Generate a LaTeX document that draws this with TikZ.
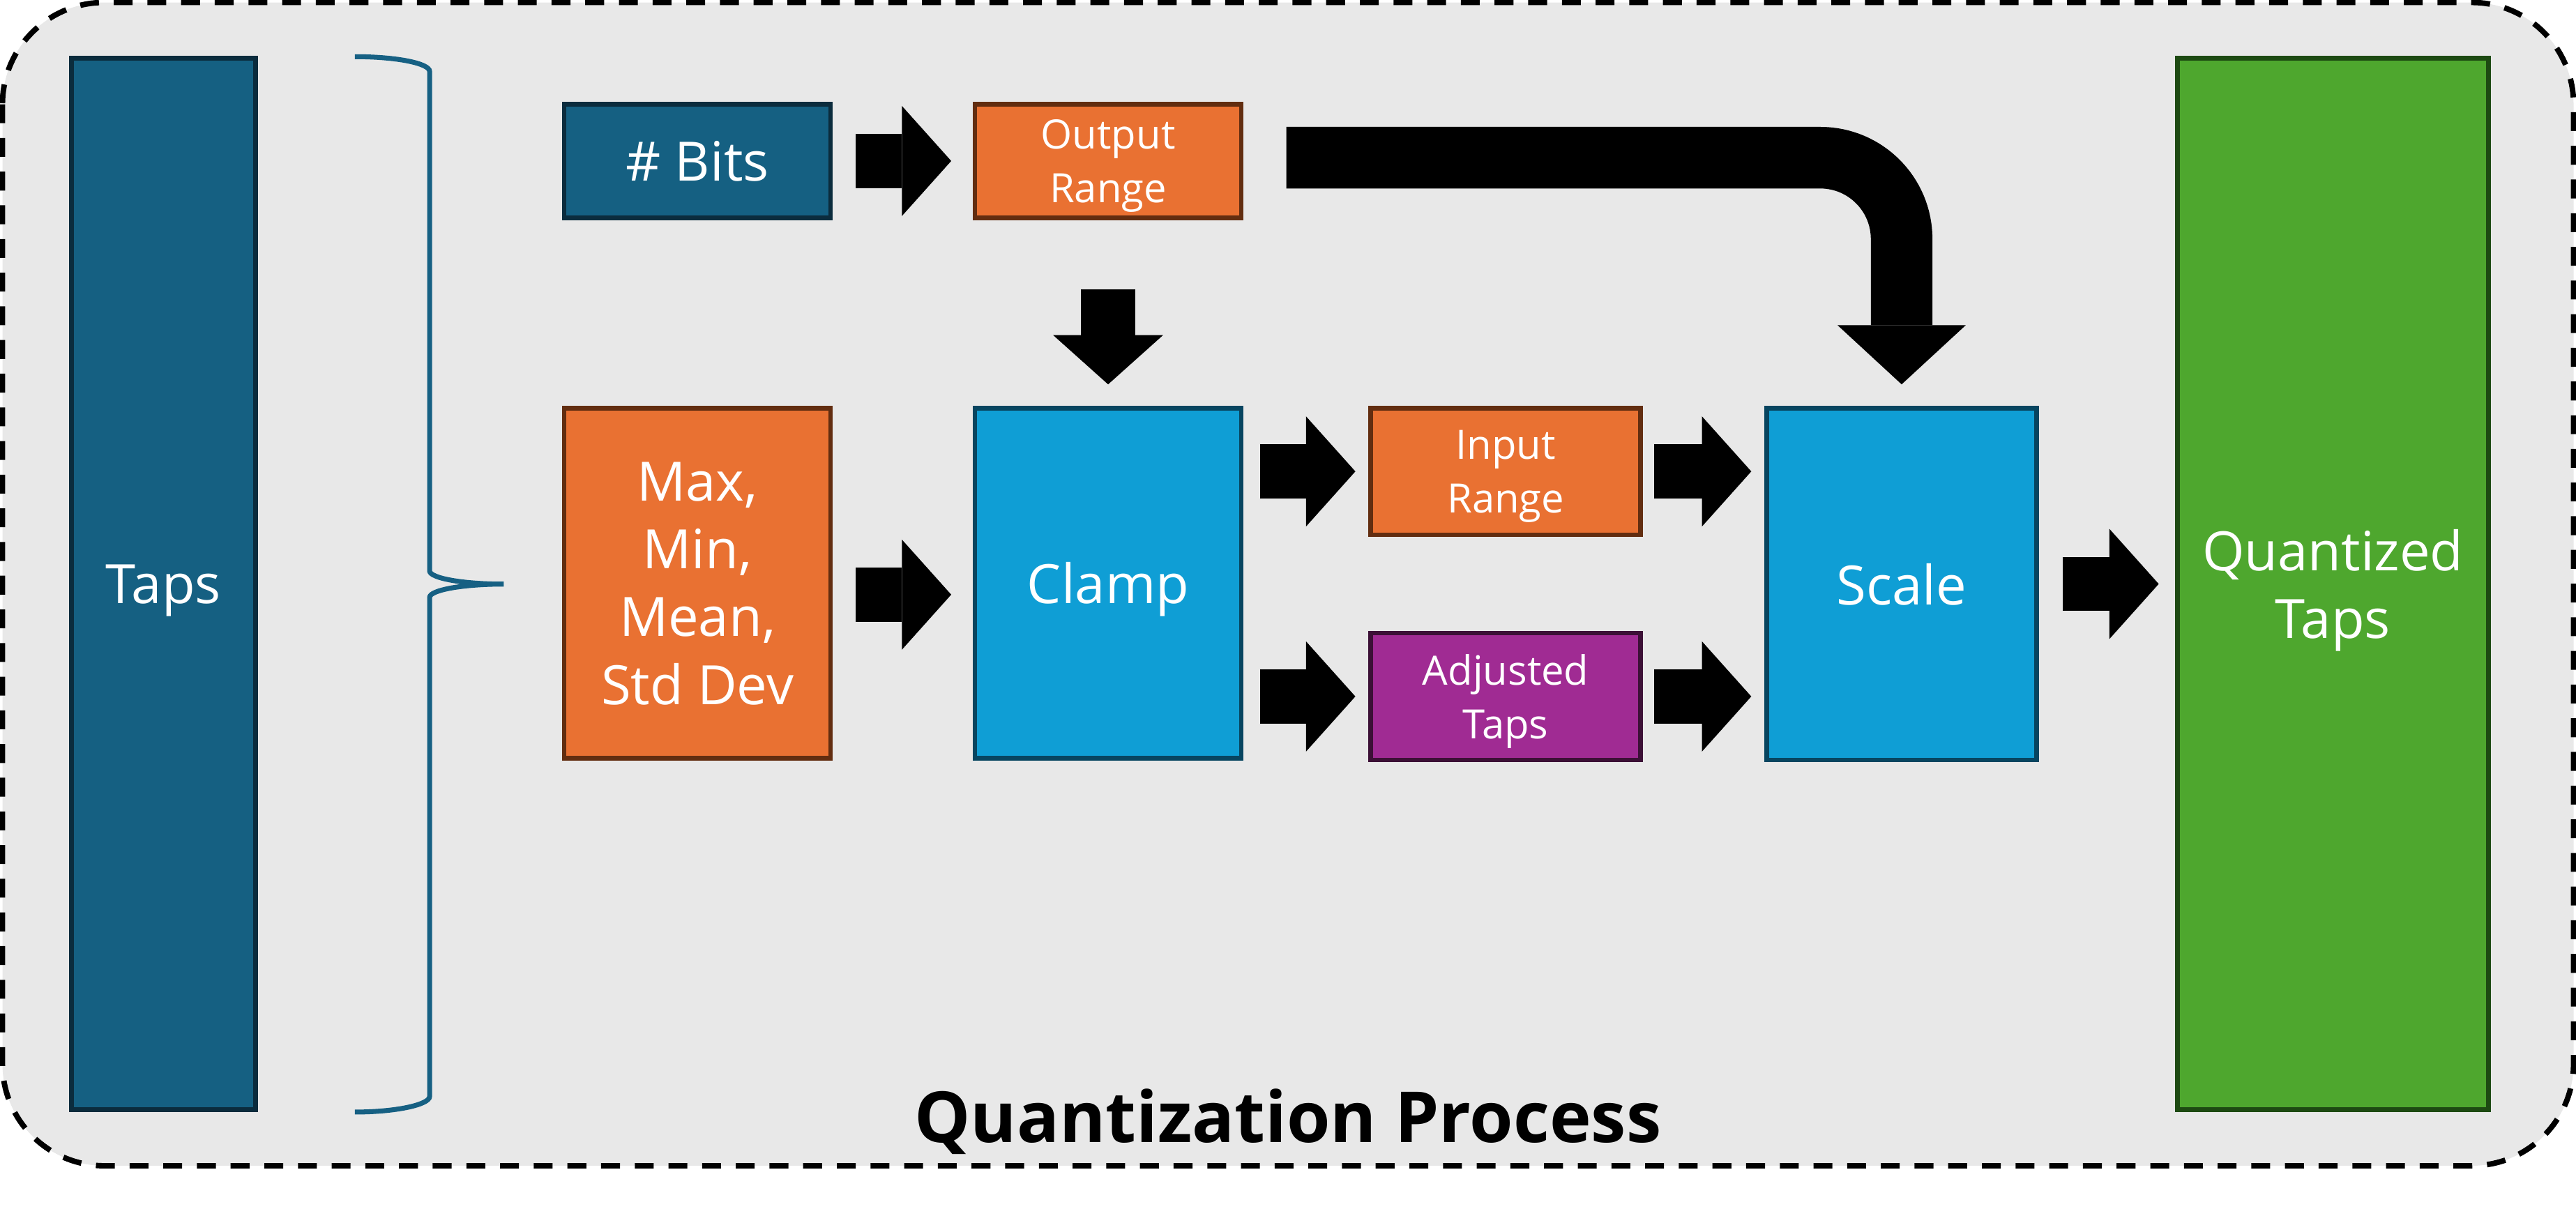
\documentclass[tikz,border=0pt]{standalone}
\usepackage{fontspec}
\setmainfont{Open Sans}
\usepackage{tikz}
\usetikzlibrary{arrows.meta}

\definecolor{tealfill}{HTML}{156082}
\definecolor{tealline}{HTML}{0B2C3D}
\definecolor{orangefill}{HTML}{E97132}
\definecolor{orangeline}{HTML}{622D10}
\definecolor{bluefill}{HTML}{0F9ED5}
\definecolor{blueline}{HTML}{074560}
\definecolor{purplefill}{HTML}{A02B93}
\definecolor{purpleline}{HTML}{3C1036}
\definecolor{greenfill}{HTML}{4EA72E}
\definecolor{greenline}{HTML}{1D4A12}
\definecolor{panelgray}{HTML}{E8E8E8}
\definecolor{bracecol}{HTML}{166083}

\begin{document}
\begin{tikzpicture}[
    box/.style={draw, line width=1.6pt, inner sep=0pt, text=white, align=center,
      text depth=0pt, font=\fontsize{18.8pt}{23.5pt}\selectfont},
    small/.style={font=\fontsize{14pt}{18.7pt}\selectfont},
    tealbox/.style={box, fill=tealfill, draw=tealline},
    orangebox/.style={box, fill=orangefill, draw=orangeline},
    bluebox/.style={box, fill=bluefill, draw=blueline},
    purplebox/.style={box, fill=purplefill, draw=purpleline},
    greenbox/.style={box, fill=greenfill, draw=greenline},
    blockarrow/.style={line width=0.66cm,
      -{Triangle[length=0.6cm, width=1.34cm, line width=0pt]}},
    bigarrow/.style={line width=0.75cm, rounded corners=0.99cm,
      -{Triangle[length=0.72cm, width=1.56cm, line width=0pt]}}
  ]
      \useasboundingbox (0,0) rectangle (31.36,-14.72);

      % dashed frame round everything
      \draw[line width=1.9pt, dash pattern=on 0.23cm off 0.18cm, fill=panelgray,
        rounded corners=1.24cm] (0.03,-0.03) rectangle (31.33,-14.194);

      % write the title
      \node[anchor=base, font=\fontsize{24.4pt}{29pt}\selectfont\bfseries] (title)
        at (15.68,-13.906) {Quantization Process};

      % the two tall columns
      \node[tealbox, minimum width=2.244cm, minimum height=12.804cm] (taps) at (1.99,-7.11) {Taps};
      \node[greenbox, minimum width=3.784cm, minimum height=12.804cm] (quant) at (28.40,-7.11) {Quantized\\Taps};

      % top row
      \node[tealbox, minimum width=3.244cm, minimum height=1.384cm] (bits) at (8.49,-1.96) {\# Bits};
      \node[orangebox, small, minimum width=3.244cm, minimum height=1.384cm] (outrange) at (13.49,-1.96) {Output\\Range};

      % middle row
      \node[orangebox, minimum width=3.244cm, minimum height=4.264cm] (stats) at (8.49,-7.10) {Max,\\Min,\\Mean,\\Std Dev};
      \node[bluebox, minimum width=3.244cm, minimum height=4.264cm] (clamp) at (13.49,-7.10) {Clamp};
      \node[orangebox, small, minimum width=3.284cm, minimum height=1.544cm] (inrange) at (18.33,-5.74) {Input\\Range};
      \node[purplebox, small, minimum width=3.284cm, minimum height=1.544cm] (adjusted) at (18.33,-8.48) {Adjusted\\Taps};
      \node[bluebox, minimum width=3.284cm, minimum height=4.284cm] (scale) at (23.15,-7.11) {Scale};

      % brace next to the taps
      \draw[bracecol, line width=1.7pt] (4.32,-0.69) .. controls (4.822,-0.69) and (5.23,-0.77) .. (5.23,-0.87)
        -- (5.23,-6.95) .. controls (5.23,-7.04) and (5.634,-7.112) .. (6.132,-7.112)
        .. controls (5.634,-7.112) and (5.23,-7.184) .. (5.23,-7.274)
        -- (5.23,-13.35) .. controls (5.23,-13.45) and (4.822,-13.54) .. (4.32,-13.54);

      % arrows between the boxes
      \draw[blockarrow, shorten <=0.28cm, shorten >=0.26cm] (bits) -- (outrange);
      \draw[blockarrow, shorten <=0.84cm, shorten >=0.26cm] (outrange) -- (clamp);
      \draw[blockarrow, shorten <=0.28cm, shorten >=0.26cm] ([yshift=-0.14cm]stats.east) -- ([yshift=-0.14cm]clamp.west);
      \draw[blockarrow, shorten <=0.2cm, shorten >=0.16cm] (clamp.east |- inrange) -- (inrange);
      \draw[blockarrow, shorten <=0.2cm, shorten >=0.16cm] (clamp.east |- adjusted) -- (adjusted);
      \draw[blockarrow, shorten <=0.14cm, shorten >=0.16cm] (inrange) -- (inrange -| scale.west);
      \draw[blockarrow, shorten <=0.14cm, shorten >=0.16cm] (adjusted) -- (adjusted -| scale.west);
      \draw[blockarrow, shorten <=0.29cm, shorten >=0.2cm] (scale) -- (quant);

      % big bent arrow from output range down into scale
      \draw[bigarrow, shorten <=0.52cm, shorten >=0.26cm] ([yshift=0.04cm]outrange.east) -| (scale.north);
\end{tikzpicture}
\end{document}
